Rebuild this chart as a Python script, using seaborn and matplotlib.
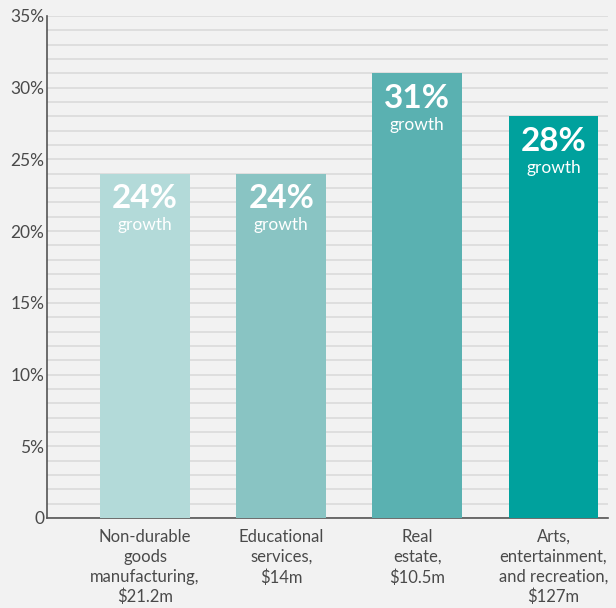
import numpy as np
import pandas as pd
import seaborn as sns
import matplotlib.pyplot as plt
from matplotlib.ticker import MultipleLocator


categories = ["Non-durable\ngoods\nmanufacturing,\n$21.2m",
              "Educational\nservices,\n$14m",
              "Real\nestate,\n$10.5m",
              "Arts,\nentertainment,\nand recreation,\n$127m"]
growth = [24, 24, 31, 28]
colors = ["#b3dad9", "#89c4c3", "#5ab1b1", "#00a19d"]
ytick_labels = ["0", "5%", "10%", "15%", "20%", "25%", "30%", "35%"]

df = pd.DataFrame({"category": categories, "growth": growth})

sns.set_style("white")
plt.rcParams["font.family"] = ["Lato", "DejaVu Sans"]

bg = "#f2f2f2"
fig = plt.figure(figsize=(6.16, 6.08), dpi=100, facecolor=bg)
ax = fig.add_axes([47 / 616, 1 - 518 / 608, (608 - 47) / 616, (518 - 16) / 608])
ax.set_facecolor(bg)

sns.barplot(data=df, x="category", y="growth", hue="category", palette=colors,
            width=0.66, saturation=1, legend=False, ax=ax, zorder=3,
            edgecolor="none", linewidth=0)

ax.set_ylim(0, 35)
ax.set_xlim(-0.72, 3.40)
ax.yaxis.set_minor_locator(MultipleLocator(1))
ax.set_yticks(range(0, 36, 5))
ax.set_yticklabels(ytick_labels)
ax.grid(axis="y", which="both", color="#dcdcdc", linewidth=1.3, zorder=0)
ax.set_axisbelow(True)

for s in ["top", "right"]:
    ax.spines[s].set_visible(False)
for s in ["left", "bottom"]:
    ax.spines[s].set_color("#555555")
    ax.spines[s].set_linewidth(1.2)

ax.tick_params(axis="y", which="major", direction="in", length=9, width=1.2,
               color="#555555", labelsize=12.5, labelcolor="#4a4a4a", pad=2)
ax.tick_params(axis="y", which="minor", length=0)
ax.tick_params(axis="x", length=0, pad=8)
for lab in ax.get_xticklabels():
    lab.set_fontsize(12)
    lab.set_color("#4a4a4a")
    lab.set_linespacing(1.3)
ax.set_xlabel("")
ax.set_ylabel("")

for i, v in enumerate(growth):
    ax.annotate(f"{v}%", (i, v), xytext=(0, -18), textcoords="offset points",
                ha="center", va="center", color="white", fontsize=24,
                fontweight="bold", zorder=5)
    ax.annotate("growth", (i, v), xytext=(0, -37), textcoords="offset points",
                ha="center", va="center", color="white", fontsize=12.5,
                zorder=5)

fig.savefig("out.png", dpi=100, facecolor=bg)
